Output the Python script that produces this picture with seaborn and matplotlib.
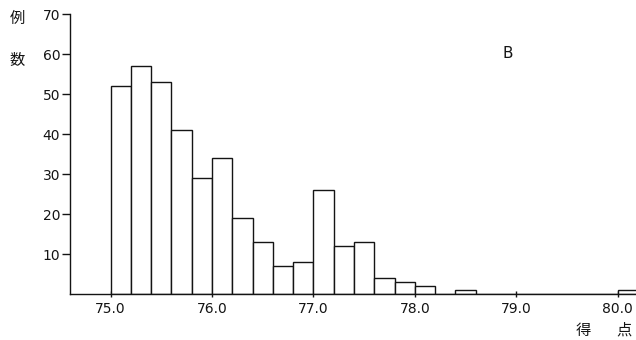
import numpy as np
import pandas as pd
import matplotlib
matplotlib.use("Agg")
import matplotlib.pyplot as plt
import seaborn as sns

# bin left edges (score) and counts
scores = [75.0, 75.2, 75.4, 75.6, 75.8, 76.0, 76.2, 76.4, 76.6, 76.8,
          77.0, 77.2, 77.4, 77.6, 77.8, 78.0, 78.2, 78.4, 78.6, 78.8,
          79.0, 79.2, 79.4, 79.6, 79.8, 80.0]
counts = [52, 57, 53, 41, 29, 34, 19, 13, 7, 8,
          26, 12, 13, 4, 3, 2, 0, 1, 0, 0,
          0, 0, 0, 0, 0, 1]
xticks = [75.0, 76.0, 77.0, 78.0, 79.0, 80.0]
xtick_labels = ["75.0", "76.0", "77.0", "78.0", "79.0", "80.0"]
yticks = [10, 20, 30, 40, 50, 60, 70]

sns.set_style("white")
plt.rcParams['font.family'] = ['DejaVu Sans', 'Noto Sans CJK JP']

ink = "#141414"
fig = plt.figure(figsize=(6.36, 3.4), dpi=100)
ax = fig.add_axes([70 / 636, 46 / 340, 566 / 636, 280 / 340])

width = 0.2
df = pd.DataFrame({"score": np.array(scores) + width / 2, "n": counts})
edges = list(np.append(np.array(scores), scores[-1] + width))
sns.histplot(data=df, x="score", weights="n", bins=edges,
             stat="count", color="white", edgecolor=ink, linewidth=1.0,
             alpha=1, ax=ax)

ax.set_xlim(74.6, 80.18)
ax.set_ylim(0, 70)
ax.set_xticks(xticks)
ax.set_xticklabels(xtick_labels)
ax.set_yticks(yticks)
ax.set_xlabel("")
ax.set_ylabel("")
sns.despine(ax=ax, top=True, right=True)
for s in ["left", "bottom"]:
    ax.spines[s].set_color(ink)
    ax.spines[s].set_linewidth(1.0)

ax.tick_params(axis="y", direction="out", length=6, width=1, pad=1,
               labelsize=10, colors=ink, left=True)
ax.tick_params(axis="x", direction="inout", length=5, width=1, pad=3,
               labelsize=10, colors=ink, bottom=True)

ax.text(78.92, 60, "B", fontsize=11, color=ink, ha="center", va="center")

cjk = ['Noto Sans CJK JP', 'DejaVu Sans']
fig.text(17 / 636, 1 - 18 / 340, "例", family=cjk, fontsize=11, color=ink,
         ha="center", va="center")
fig.text(17 / 636, 1 - 60 / 340, "数", family=cjk, fontsize=11, color=ink,
         ha="center", va="center")
fig.text(583 / 636, 1 - 330 / 340, "得", family=cjk, fontsize=11, color=ink,
         ha="center", va="center")
fig.text(624 / 636, 1 - 330 / 340, "点", family=cjk, fontsize=11, color=ink,
         ha="center", va="center")

fig.savefig("out.png", dpi=100)
